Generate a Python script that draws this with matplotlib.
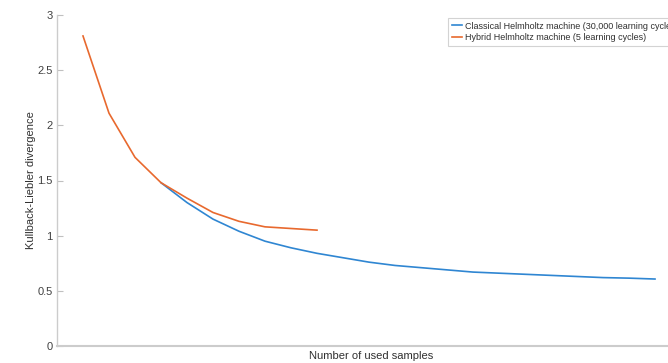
import matplotlib
matplotlib.use("Agg")
import matplotlib.pyplot as plt

plt.rcParams['font.family'] = ['Liberation Sans', 'DejaVu Sans']

samples_hybrid = list(range(1, 11))
kl_hybrid = [2.81, 2.11, 1.71, 1.48, 1.34, 1.21, 1.13, 1.08, 1.065, 1.05]

samples_classical = list(range(4, 24))
kl_classical = [1.48, 1.30, 1.15, 1.04, 0.95, 0.89, 0.84, 0.80, 0.76, 0.73,
                0.71, 0.69, 0.67, 0.66, 0.65, 0.64, 0.63, 0.62, 0.615, 0.607]

yticks = [0, 0.5, 1, 1.5, 2, 2.5, 3]
ytick_labels = ['0', '0.5', '1', '1.5', '2', '2.5', '3']

W, H = 668, 363
fig = plt.figure(figsize=(W / 100, H / 100), dpi=100)
ax_w = 707 - 57
ax_h = 346 - 15
ax = fig.add_axes([57 / W, (H - 346) / H, ax_w / W, ax_h / H])

l1, = ax.plot(samples_classical, kl_classical, color='#2F86D2', lw=1.2,
              label='Classical Helmholtz machine (30,000 learning cycles)')
l2, = ax.plot(samples_hybrid, kl_hybrid, color='#E8692E', lw=1.2,
              label='Hybrid Helmholtz machine (5 learning cycles)')

ax.set_xlim(0, 25)
ax.set_ylim(0, 3)
ax.set_yticks(yticks)
ax.set_yticklabels(ytick_labels)
ax.set_xticks([])

for s in ['top', 'right']:
    ax.spines[s].set_visible(False)
for s in ['left', 'bottom']:
    ax.spines[s].set_color('#cccccc')
    ax.spines[s].set_linewidth(1.0)
ax.spines['bottom'].set_linewidth(1.5)
ax.tick_params(axis='y', direction='in', length=4, color='#c0c0c0',
               labelsize=8, labelcolor='#404040', pad=3)

ax.set_ylabel('Kullback-Liebler divergence', fontsize=8, color='#303030')
ax.yaxis.set_label_coords((36 - 57) / ax_w, 0.5)
ax.set_xlabel('Number of used samples', fontsize=8, color='#303030')
ax.xaxis.set_label_coords((371 - 57) / ax_w, (346 - 351) / ax_h)

leg = fig.legend(handles=[l1, l2], loc='upper left',
                 bbox_to_anchor=(448 / W, 1 - 18 / H), fontsize=6.5,
                 frameon=True, fancybox=False, handlelength=1.2,
                 handletextpad=0.3, borderpad=0.4, labelspacing=0.3,
                 borderaxespad=0)
leg.get_frame().set_edgecolor('#c8c8c8')
leg.get_frame().set_linewidth(0.8)
for t in leg.get_texts():
    t.set_color('#303030')

fig.savefig('out.png', dpi=100)
